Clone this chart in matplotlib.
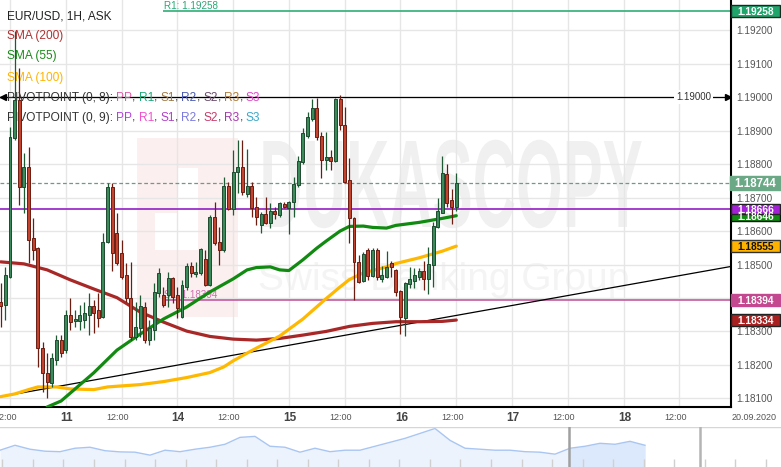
import numpy as np
import pandas as pd
import matplotlib
matplotlib.use("Agg")
import matplotlib.pyplot as plt
from matplotlib.patches import Rectangle
from matplotlib.transforms import IdentityTransform, Affine2D
from matplotlib.patheffects import AbstractPathEffect

plt.rcParams['font.family'] = ['Liberation Sans', 'DejaVu Sans']

W, H = 781, 467

# ---------------- data (EUR/USD 1H, from 10 Sep 2020 10:00) ----------------
opens = [1.18389, 1.18379, 1.18464, 1.18878, 1.18992, 1.18733, 1.18792, 1.18579, 1.18549, 1.18250,
         1.18176, 1.18146, 1.18215, 1.18274, 1.18244, 1.18349, 1.18331, 1.18331, 1.18334, 1.18349,
         1.18376, 1.18364, 1.18344, 1.18568, 1.18733, 1.18594, 1.18535, 1.18469, 1.18400, 1.18283,
         1.18310, 1.18373, 1.18274, 1.18304, 1.18415, 1.18409, 1.18409, 1.18460, 1.18409, 1.18343,
         1.18433, 1.18496, 1.18472, 1.18475, 1.18517, 1.18439, 1.18642, 1.18567, 1.18543, 1.18735,
         1.18666, 1.18777, 1.18792, 1.18711, 1.18735, 1.18672, 1.18618, 1.18651, 1.18624, 1.18660,
         1.18648, 1.18681, 1.18669, 1.18687, 1.18738, 1.18807, 1.18884, 1.18935, 1.18968, 1.18884,
         1.18813, 1.18822, 1.18810, 1.18995, 1.18917, 1.18753, 1.18639, 1.18508, 1.18451, 1.18543,
         1.18466, 1.18543, 1.18457, 1.18463, 1.18505, 1.18484, 1.18421, 1.18340, 1.18442, 1.18451,
         1.18463, 1.18481, 1.18457, 1.18499, 1.18612, 1.18654, 1.18771, 1.18693, 1.18672]
highs = [1.18445, 1.18493, 1.18912, 1.19198, 1.19088, 1.18833, 1.18852, 1.18639, 1.18552, 1.18268,
         1.18235, 1.18235, 1.18289, 1.18289, 1.18364, 1.18400, 1.18364, 1.18379, 1.18388, 1.18415,
         1.18394, 1.18415, 1.18594, 1.18744, 1.18744, 1.18654, 1.18573, 1.18505, 1.18508, 1.18388,
         1.18409, 1.18388, 1.18334, 1.18445, 1.18490, 1.18433, 1.18478, 1.18463, 1.18433, 1.18454,
         1.18505, 1.18508, 1.18508, 1.18549, 1.18543, 1.18648, 1.18687, 1.18612, 1.18762, 1.18747,
         1.18842, 1.18872, 1.18872, 1.18845, 1.18747, 1.18702, 1.18657, 1.18702, 1.18684, 1.18672,
         1.18687, 1.18687, 1.18690, 1.18762, 1.18825, 1.18908, 1.18956, 1.18995, 1.18998, 1.18896,
         1.18896, 1.18842, 1.18998, 1.19007, 1.18971, 1.18819, 1.18641, 1.18529, 1.18537, 1.18549,
         1.18549, 1.18549, 1.18496, 1.18540, 1.18510, 1.18487, 1.18423, 1.18447, 1.18493, 1.18490,
         1.18490, 1.18510, 1.18552, 1.18627, 1.18699, 1.18825, 1.18801, 1.18726, 1.18774]
lows = [1.18313, 1.18334, 1.18460, 1.18872, 1.18678, 1.18654, 1.18505, 1.18513, 1.18194, 1.18119,
        1.18101, 1.18134, 1.18200, 1.18224, 1.18235, 1.18304, 1.18313, 1.18304, 1.18310, 1.18289,
        1.18295, 1.18313, 1.18340, 1.18564, 1.18481, 1.18499, 1.18458, 1.18388, 1.18274, 1.18274,
        1.18283, 1.18265, 1.18259, 1.18274, 1.18403, 1.18373, 1.18373, 1.18385, 1.18340, 1.18340,
        1.18424, 1.18463, 1.18463, 1.18469, 1.18436, 1.18436, 1.18558, 1.18499, 1.18537, 1.18663,
        1.18648, 1.18714, 1.18708, 1.18702, 1.18642, 1.18618, 1.18594, 1.18621, 1.18609, 1.18636,
        1.18642, 1.18669, 1.18591, 1.18642, 1.18732, 1.18801, 1.18878, 1.18929, 1.18872, 1.18759,
        1.18783, 1.18783, 1.18807, 1.18902, 1.18744, 1.18564, 1.18394, 1.18446, 1.18448, 1.18454,
        1.18463, 1.18454, 1.18448, 1.18460, 1.18463, 1.18406, 1.18292, 1.18286, 1.18430, 1.18430,
        1.18454, 1.18424, 1.18412, 1.18433, 1.18609, 1.18654, 1.18672, 1.18621, 1.18660]
closes = [1.18376, 1.18469, 1.18882, 1.18992, 1.18733, 1.18792, 1.18573, 1.18543, 1.18250, 1.18176,
          1.18149, 1.18220, 1.18274, 1.18235, 1.18349, 1.18328, 1.18337, 1.18349, 1.18355, 1.18376,
          1.18355, 1.18340, 1.18568, 1.18733, 1.18535, 1.18505, 1.18463, 1.18400, 1.18283, 1.18313,
          1.18376, 1.18274, 1.18310, 1.18418, 1.18475, 1.18379, 1.18460, 1.18403, 1.18370, 1.18439,
          1.18496, 1.18475, 1.18478, 1.18546, 1.18439, 1.18642, 1.18564, 1.18543, 1.18735, 1.18666,
          1.18777, 1.18792, 1.18717, 1.18735, 1.18669, 1.18642, 1.18651, 1.18624, 1.18660, 1.18651,
          1.18684, 1.18672, 1.18687, 1.18741, 1.18810, 1.18893, 1.18941, 1.18968, 1.18881, 1.18813,
          1.18822, 1.18810, 1.18995, 1.18917, 1.18747, 1.18639, 1.18508, 1.18448, 1.18532, 1.18466,
          1.18543, 1.18463, 1.18469, 1.18493, 1.18493, 1.18418, 1.18343, 1.18445, 1.18457, 1.18469,
          1.18481, 1.18457, 1.18502, 1.18615, 1.18660, 1.18774, 1.18684, 1.18672, 1.18744]

sma200_idx = [0, 5, 10, 15, 20, 25, 30, 35, 40, 45, 50, 55, 60, 65, 70, 75, 80, 85, 90, 95, 98]
sma200 = [1.18508, 1.18502, 1.18484, 1.18454, 1.18427, 1.18401, 1.18358, 1.18328, 1.18301, 1.18285,
          1.18277, 1.18274, 1.18279, 1.18289, 1.18300, 1.18315, 1.18324, 1.18329, 1.18329, 1.18330, 1.18334]
sma55_idx = [10, 13, 15, 20, 25, 30, 35, 40, 45, 50, 53, 55, 58, 60, 62, 65, 68, 70, 73, 75,
             78, 80, 83, 85, 90, 95, 98]
sma55 = [1.18074, 1.18092, 1.18116, 1.18176, 1.18244, 1.18292, 1.18337, 1.18373, 1.18418, 1.18457,
         1.18484, 1.18491, 1.18493, 1.18484, 1.18482, 1.18514, 1.18549, 1.18570, 1.18600, 1.18614,
         1.18615, 1.18611, 1.18609, 1.18617, 1.18626, 1.18638, 1.18646]
sma100_idx = [0, 3, 6, 8, 12, 15, 20, 23, 25, 30, 35, 40, 45, 48, 50, 53, 55, 60, 65, 70,
              73, 75, 78, 80, 83, 85, 90, 95, 98]
sma100 = [1.18105, 1.18113, 1.18126, 1.18134, 1.18134, 1.18128, 1.18126, 1.18134, 1.18136, 1.18141,
          1.18150, 1.18162, 1.18177, 1.18194, 1.18212, 1.18235, 1.18250, 1.18286, 1.18337, 1.18398,
          1.18433, 1.18455, 1.18475, 1.18482, 1.18493, 1.18503, 1.18520, 1.18540, 1.18555]

trend_idx = [0, 157]
trend_val = [1.18105, 1.18494]

pivot_start = 35
r1_level = 1.19258
s1_level = 1.18394
pp_level = 1.18666
round_level = 1.19000
last_price = 1.18744

pivot_names = ['PP', 'R1', 'S1', 'R2', 'S2', 'R3', 'S3']
pivot8_colors = ['#e05aa8', '#1fa878', '#a07a45', '#4a5ab0', '#6a4a6a', '#b07a35', '#e045c8']
pivot9_colors = ['#b040e0', '#f050d0', '#b040c8', '#7a7ae0', '#c83a6a', '#a838b0', '#3aa8c8']

# navigator (overview) levels, equally spaced samples
nav_levels = [17, 22, 18, 16, 15.5, 19, 20, 16.5, 15.3, 15, 12, 17, 15.5, 18, 20, 23, 30, 31, 21, 20,
              15, 19, 15.5, 17, 17, 21, 25, 29, 34, 39, 27, 19, 18, 17, 17, 15.5, 15, 13, 19, 21,
              24, 23, 26, 22]

# ---------------- figure ----------------
fig = plt.figure(figsize=(W / 100, H / 100), dpi=100)
fig.patch.set_facecolor('white')
ax = fig.add_axes([0, 60 / H, 731 / W, 407 / H])

times = pd.date_range('2020-09-10 10:00', '2020-09-18 23:00', freq='h')
times = times[times.dayofweek < 5]
slot = np.arange(len(times))

ax.set_xlim(-0.15, len(times) - 0.9)
ax.set_ylim(1.18074, 1.19291)
XL = ax.get_xlim()

for s in ['top', 'left']:
    ax.spines[s].set_visible(False)
for s in ['right', 'bottom']:
    ax.spines[s].set_color('black')
    ax.spines[s].set_linewidth(1.5)

yt = np.round(np.arange(1.181, 1.19201, 0.001), 3)
ax.set_yticks(yt)
ax.set_yticklabels([f'{v:.5f}' for v in yt])
ax.yaxis.tick_right()
ax.tick_params(axis='y', length=0, pad=4, labelsize=7.2, labelcolor='#555555')

day_pos = slot[times.hour == 0]
half_pos = slot[times.hour == 12]
ax.set_xticks(day_pos)
ax.set_xticks(half_pos, minor=True)
ax.tick_params(axis='x', which='both', length=0, labelbottom=False)
ax.grid(True, which='both', color='#e6e6e6', lw=1.0)
ax.set_axisbelow(True)

xtr = ax.get_xaxis_transform()
for p in day_pos:
    ax.annotate(str(times[p].day), xy=(p, 0), xycoords=xtr, xytext=(0.6, -7.6),
                textcoords='offset points', ha='center', va='center', fontsize=8.5,
                fontweight='bold', color='#444444', annotation_clip=False)
for p in half_pos:
    ax.annotate('12:00', xy=(p, 0), xycoords=xtr, xytext=(-3, -7.3),
                textcoords='offset points', ha='center', va='center', fontsize=6.5,
                color='#555555', annotation_clip=False)
fig.text(732 / W, 1 - 418 / H, '20.09.2020', fontsize=6.5, color='#555555', ha='left', va='center')

# ---------------- watermark ----------------
class SquashX(AbstractPathEffect):
    def __init__(self, sx, cx):
        super().__init__()
        self._sx = sx
        self._cx = cx

    def draw_path(self, renderer, gc, tpath, affine, rgbFace=None):
        extra = Affine2D().translate(-self._cx, 0).scale(self._sx, 1.0).translate(self._cx, 0)
        renderer.draw_path(gc, tpath, affine + extra, rgbFace)

ID = IdentityTransform()
ax.add_patch(Rectangle((137, H - 317), 101, 179, transform=ID, fc='#fcefef', ec='none', zorder=0.1))
ax.add_patch(Rectangle((178, H - 250), 20, 82, transform=ID, fc='white', ec='none', zorder=0.15))
ax.add_patch(Rectangle((155, H - 250), 43, 37, transform=ID, fc='white', ec='none', zorder=0.15))
ax.text(451, H - 227, 'DUKASCOPY', transform=ID, ha='center', va='baseline', fontsize=90,
        fontweight='bold', color='#f0f0f0', zorder=0.2, path_effects=[SquashX(0.48, 451)])
ax.text(444, H - 290, 'Swiss Banking Group', transform=ID, ha='center', va='baseline',
        fontsize=28, color='#f4f4f4', zorder=0.2)

# ---------------- horizontal levels ----------------
ax.axhline(round_level, color='black', lw=0.9, zorder=2)
ax.plot([XL[0] + 0.65], [round_level], marker='<', ms=4, color='black', zorder=2, clip_on=False)
ax.plot([XL[1] - 0.7], [round_level], marker='>', ms=4, color='black', zorder=2, clip_on=False)
ax.text(XL[1] - 8.1, round_level, '1.19000', ha='center', va='center', fontsize=7, color='#333333',
        bbox=dict(fc='white', ec='none', pad=1.5), zorder=2.1)

ax.hlines(r1_level, pivot_start, XL[1], color='#2fae78', lw=1.2, zorder=2)
ax.text(pivot_start + 0.2, r1_level, 'R1: 1.19258', ha='left', va='bottom', fontsize=7.1,
        color='#2aa874', zorder=2)
ax.hlines(s1_level, pivot_start, XL[1], color='#c45a9e', lw=1.2, zorder=2)
ax.text(pivot_start + 0.2, s1_level, 'S1: 1.18394', ha='left', va='bottom', fontsize=7.1,
        color='#cf6fae', zorder=2)
ax.axhline(pp_level, color='#9b2fc9', lw=1.3, zorder=2)
ax.axhline(last_price, color='#6a9e82', lw=0.9, ls=(0, (3, 2)), zorder=2)
ax.plot(trend_idx, trend_val, color='black', lw=0.9, zorder=2.5)

# ---------------- SMAs ----------------
ax.plot(sma200_idx, sma200, color='#a82828', lw=2.3, zorder=3, solid_capstyle='round')
ax.plot(sma100_idx, sma100, color='#ffb800', lw=2.3, zorder=3, solid_capstyle='round')
ax.plot(sma55_idx, sma55, color='#118a11', lw=2.3, zorder=3, solid_capstyle='round')

# ---------------- candles ----------------
o, hi, lo, c = (np.array(v) for v in (opens, highs, lows, closes))
xc = slot[:len(o)]
up = c >= o
ax.vlines(xc[up], lo[up], hi[up], color='#1f5a35', lw=0.9, zorder=4)
ax.vlines(xc[~up], lo[~up], hi[~up], color='#6b1d12', lw=0.9, zorder=4)
ax.bar(xc[up], c[up] - o[up], bottom=o[up], width=0.64, color='#3a8a5a', edgecolor='#1f4a30',
       lw=0.7, zorder=5)
ax.bar(xc[~up], o[~up] - c[~up], bottom=c[~up], width=0.64, color='#c4432e', edgecolor='#6b1d12',
       lw=0.7, zorder=5)

# ---------------- legend texts ----------------
def multicolor(xpx, ypx, parts, size=8.6):
    t = ax.text(xpx, H - ypx, parts[0][0], transform=ID, color=parts[0][1], fontsize=size,
                ha='left', va='center_baseline', zorder=3)
    for s, col in parts[1:]:
        t = ax.annotate(s, xy=(1, 0), xycoords=t, xytext=(0, 0), textcoords='offset points',
                        ha='left', va='bottom', color=col, fontsize=size, zorder=3)

multicolor(7, 15, [('EUR/USD, 1H, ASK', '#222222')])
multicolor(7, 35, [('SMA (200)', '#b03030')])
multicolor(7, 55, [('SMA (55)', '#1a8a1a')])
multicolor(7, 76, [('SMA (100)', '#ffb400')])
for ypx, num, cols in [(96.5, 8, pivot8_colors), (116.5, 9, pivot9_colors)]:
    parts = [(f'PIVOTPOINT (0, {num}): ', '#333333')]
    for k, (nm, col) in enumerate(zip(pivot_names, cols)):
        parts.append((nm, col))
        if k < len(pivot_names) - 1:
            parts.append((', ', '#333333'))
    multicolor(7, ypx, parts)

# ---------------- right price boxes ----------------
def price_box(price, fc, tc, ec, w=49, h=11.5, fs=7.3, x0=0):
    xd, yd = ax.transData.transform((XL[1], price))
    fig.add_artist(Rectangle((xd + x0, yd - h / 2), w, h, transform=ID, fc=fc, ec=ec, lw=1, zorder=10))
    fig.text(xd + x0 + w / 2, yd, f'{price:.5f}', transform=ID, ha='center', va='center_baseline',
             fontsize=fs, fontweight='bold', color=tc, zorder=11)

price_box(r1_level, '#1fa56b', 'white', '#1a2a20')
price_box(last_price, '#6aa886', 'white', '#6aa886', w=51, h=13.5, fs=8.3, x0=-1)
price_box(sma55[-1], '#118a11', 'white', '#111111', h=10)
price_box(pp_level, '#a321d4', 'white', '#222222', h=10)
price_box(sma100[-1], '#ffb300', '#111111', '#333333')
price_box(s1_level, '#c4488f', 'white', '#c4488f')
price_box(sma200[-1], '#a82020', 'white', '#222222')

# ---------------- navigator ----------------
nav = fig.add_axes([0, 0, 1, 40 / H])
nav.set_xlim(0, W)
nav.set_ylim(0, 40.5)
nav.axis('off')
nav_x = np.linspace(0, 645, len(nav_levels))
nv = np.array(nav_levels)
nav.fill_between(nav_x, 0, nv, color='#edf3fd', lw=0)
nav.fill_between(nav_x, 0, nv, where=nav_x >= 570, color='#dce8fb', lw=0)
nav.plot(nav_x, nv, color='#a9c6f2', lw=1)
nav.axhline(40, color='#d6d6d6', lw=1)
nav.vlines(np.arange(2.4, W, 30.54), 0, 8, color='#d0d0d0', lw=1)
nav.axvline(569, color='#a0a0a0', lw=1.8)
nav.axvline(700, color='#b4b4b4', lw=1.8)

fig.savefig('out.png', dpi=100, facecolor='white')
